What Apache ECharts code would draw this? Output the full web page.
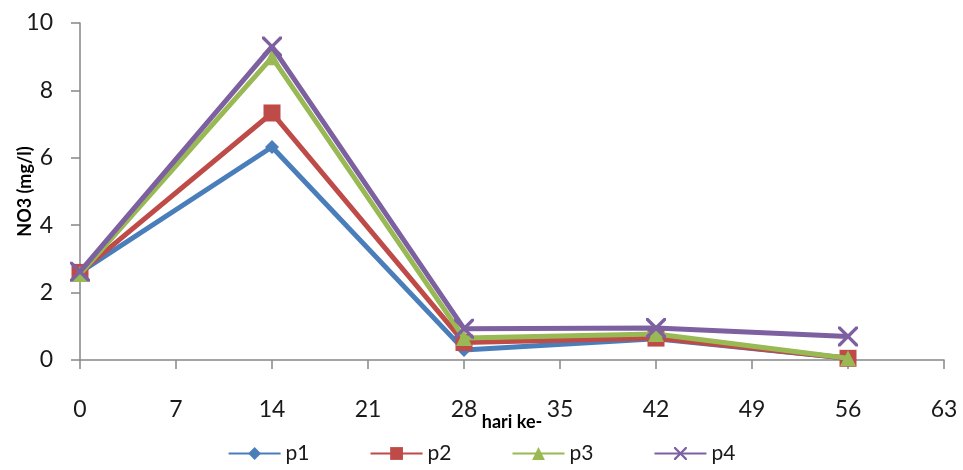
<!DOCTYPE html>
<html>
<head>
<meta charset="utf-8">
<script src="https://cdn.jsdelivr.net/npm/echarts@6/dist/echarts.min.js"></script>
<style>
html,body{margin:0;padding:0;background:#fff;}
#chart{width:963px;height:470px;}
</style>
</head>
<body>
<div id="chart"></div>
<script>
const days = [0, 14, 28, 42, 56];
const p1 = [2.6, 6.32, 0.3, 0.63, 0.05];
const p2 = [2.6, 7.33, 0.52, 0.65, 0.05];
const p3 = [2.55, 8.98, 0.65, 0.77, 0.05];
const p4 = [2.62, 9.3, 0.93, 0.95, 0.7];
const seriesNames = ['p1', 'p2', 'p3', 'p4'];
const xTicks = [0, 7, 14, 21, 28, 35, 42, 49, 56, 63];
const yTicks = [0, 2, 4, 6, 8, 10];

const colors = ['#4a7ebb', '#be4b48', '#98b954', '#7d60a0'];
const symbols = [
  'diamond',
  'rect',
  'triangle',
  'path://M0,0 L1.2,0 L5,3.8 L8.8,0 L10,0 L10,1.2 L6.2,5 L10,8.8 L10,10 L8.8,10 L5,6.2 L1.2,10 L0,10 L0,8.8 L3.8,5 L0,1.2 Z'
];
const symbolSizes = [14, 17, 16, 20];
const allData = [p1, p2, p3, p4];
const font = 'Lato, "Open Sans", sans-serif';

const chart = echarts.init(document.getElementById('chart'), null, {renderer: 'canvas'});
chart.setOption({
  animation: false,
  backgroundColor: '#fff',
  color: colors,
  grid: {left: 80, right: 19, top: 23, bottom: 110, containLabel: false, outerBoundsMode: 'none'},
  legend: {
    bottom: 1,
    left: 'center',
    itemWidth: 52,
    itemHeight: 16,
    itemGap: 60,
    textStyle: {fontFamily: font, fontSize: 21, color: '#1a1a1a'},
    data: seriesNames
  },
  xAxis: {
    type: 'value',
    min: 0, max: 63, interval: 7,
    name: 'hari ke-',
    nameLocation: 'middle',
    nameGap: 53,
    nameMoveOverlap: false,
    nameTextStyle: {fontFamily: font, fontSize: 18, fontWeight: 'bold', color: '#000'},
    axisLine: {show: true, lineStyle: {color: '#868686', width: 1.5}},
    axisTick: {show: true, inside: false, length: 9, lineStyle: {color: '#868686', width: 1.5}},
    axisLabel: {margin: 38, fontFamily: font, fontSize: 23, color: '#1a1a1a',
      formatter: v => xTicks.includes(v) ? String(v) : ''},
    splitLine: {show: false}
  },
  yAxis: {
    type: 'value',
    min: 0, max: 10, interval: 2,
    name: 'NO3 (mg/l)',
    nameLocation: 'middle',
    nameGap: 46,
    nameMoveOverlap: false,
    nameTextStyle: {fontFamily: font, fontSize: 18, fontWeight: 'bold', color: '#000'},
    axisLine: {show: true, lineStyle: {color: '#868686', width: 1.5}},
    axisTick: {show: true, inside: false, length: 9, lineStyle: {color: '#868686', width: 1.5}},
    axisLabel: {margin: 27, fontFamily: font, fontSize: 23, color: '#1a1a1a',
      formatter: v => yTicks.includes(v) ? String(v) : ''},
    splitLine: {show: false}
  },
  series: seriesNames.map((n, i) => ({
    name: n,
    type: 'line',
    data: days.map((d, j) => [d, allData[i][j]]),
    symbol: symbols[i],
    symbolSize: symbolSizes[i],
    showAllSymbol: true,
    lineStyle: {width: 5, color: colors[i]},
    itemStyle: {color: colors[i]},
    z: 2 + i
  }))
});
</script>
</body>
</html>
